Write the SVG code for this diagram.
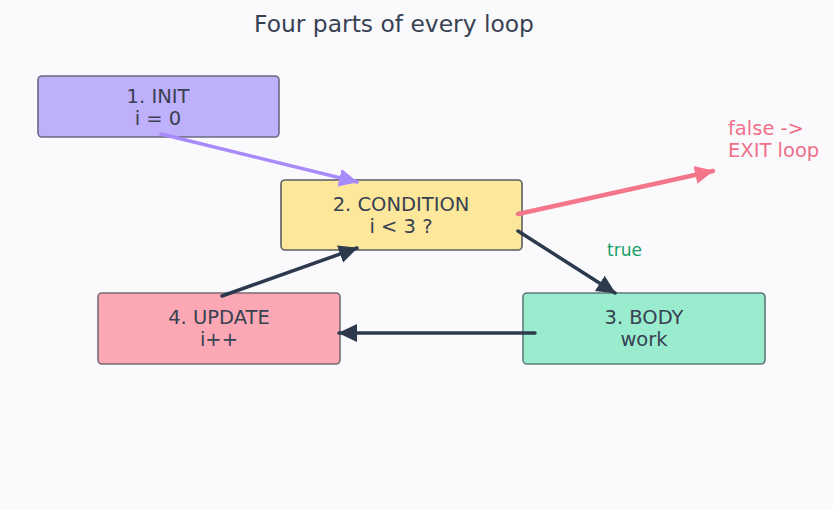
<svg xmlns="http://www.w3.org/2000/svg" width="833" height="510" viewBox="0 0 833 510">
<style>
.box{stroke-width:1.6}
.t{font-family:"DejaVu Sans",sans-serif;font-size:19.5px;fill:#374151;text-anchor:middle}
.e{fill:none;stroke-linecap:round}
</style>
<defs>
<marker id="ap" markerWidth="22" markerHeight="20" refX="18" refY="10" orient="auto" markerUnits="userSpaceOnUse"><path d="M0,1 L19,10 L0,19 Z" fill="#a78bfa"/></marker>
<marker id="ar" markerWidth="22" markerHeight="20" refX="18" refY="10" orient="auto" markerUnits="userSpaceOnUse"><path d="M0,1 L19,10 L0,19 Z" fill="#f4768a"/></marker>
<marker id="ad" markerWidth="22" markerHeight="20" refX="18" refY="10" orient="auto" markerUnits="userSpaceOnUse"><path d="M0,1 L19,10 L0,19 Z" fill="#2d3a4e"/></marker>
</defs>
<rect width="833" height="510" fill="#fafafd"/>
<text x="394" y="32" font-family="DejaVu Sans,sans-serif" font-size="23.4" fill="#374151" text-anchor="middle">Four parts of every loop</text>
<g id="init">
<rect class="box" x="38" y="76" width="241" height="61" rx="4" fill="#bfb0fb" stroke="#6b6880"/>
<text class="t" x="158" y="103">1. INIT</text>
<text class="t" x="158" y="125">i = 0</text>
</g>
<g id="condition">
<rect class="box" x="281" y="180" width="241" height="70" rx="4" fill="#fce79a" stroke="#5a5e66"/>
<text class="t" x="401" y="211">2. CONDITION</text>
<text class="t" x="401" y="233">i &lt; 3 ?</text>
</g>
<g id="update">
<rect class="box" x="98" y="293" width="242" height="71" rx="4" fill="#fca8b4" stroke="#7a6a74"/>
<text class="t" x="219" y="324">4. UPDATE</text>
<text class="t" x="219" y="346">i++</text>
</g>
<g id="body">
<rect class="box" x="523" y="293" width="242" height="71" rx="4" fill="#99ecce" stroke="#5e7a78"/>
<text class="t" x="644" y="324">3. BODY</text>
<text class="t" x="644" y="346">work</text>
</g>
<g id="connectors">
<line class="e" x1="161" y1="134" x2="357" y2="182" stroke="#a78bfa" stroke-width="3.5" marker-end="url(#ap)"/>
<line class="e" x1="518" y1="214" x2="713" y2="171" stroke="#f4768a" stroke-width="4.5" marker-end="url(#ar)"/>
<line class="e" x1="518" y1="231" x2="615" y2="293" stroke="#2d3a4e" stroke-width="3.5" marker-end="url(#ad)"/>
<line class="e" x1="535" y1="333" x2="339" y2="333" stroke="#2d3a4e" stroke-width="3.5" marker-end="url(#ad)"/>
<line class="e" x1="222" y1="296" x2="357" y2="248" stroke="#2d3a4e" stroke-width="3.5" marker-end="url(#ad)"/>
<text x="607" y="256" font-family="DejaVu Sans,sans-serif" font-size="17" fill="#16a06a">true</text>
<text x="728" y="135" font-family="DejaVu Sans,sans-serif" font-size="19.5" fill="#f07089">false -&gt;</text>
<text x="728" y="157" font-family="DejaVu Sans,sans-serif" font-size="19.5" fill="#f07089">EXIT loop</text>
</g>
</svg>
